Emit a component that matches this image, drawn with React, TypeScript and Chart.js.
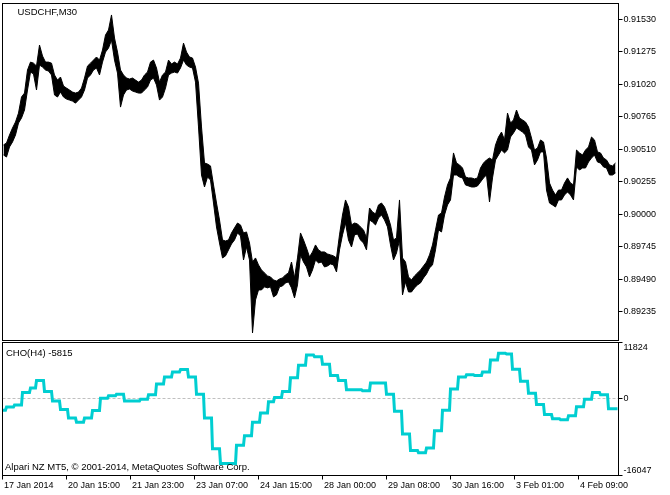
import { useEffect, useRef } from "react";
import { Chart, registerables } from "chart.js";

Chart.register(...registerables);

const FONT = "'Liberation Sans', Arial, sans-serif";

const SYMBOL_TITLE = "USDCHF,M30";
const INDICATOR_TITLE = "CHO(H4) -5815";
const COPYRIGHT = "Alpari NZ MT5, \u00a9 2001-2014, MetaQuotes Software Corp.";

// time axis
const FIRST_BAR_UTC = Date.UTC(2014, 0, 17, 6, 0); // first M30 bar on the chart
const BAR_COUNT = 616;
const BARS_PER_TIME_LABEL = 64;
const TIME_LABELS = [
  "17 Jan 2014",
  "20 Jan 15:00",
  "21 Jan 23:00",
  "23 Jan 07:00",
  "24 Jan 15:00",
  "28 Jan 00:00",
  "29 Jan 08:00",
  "30 Jan 16:00",
  "3 Feb 01:00",
  "4 Feb 09:00",
];

// price panel
const PRICE_MIN = 0.89009;
const PRICE_MAX = 0.91654;
const PRICE_TICKS = [0.89235, 0.8949, 0.89745, 0.9, 0.90255, 0.9051, 0.90765, 0.9102, 0.91275, 0.9153];
const PRICE_SAMPLE_STEP = 3; // M30 bars per sample

const PRICE_HIGH = [
  0.90544, 0.90559, 0.90622, 0.90677, 0.90724, 0.90794, 0.9092, 0.90951, 0.91132, 0.91194,
  0.91186, 0.91163, 0.91328, 0.91242, 0.91194, 0.91194, 0.91186, 0.91093, 0.91053, 0.91077,
  0.91006, 0.9099, 0.90975, 0.90959, 0.90951, 0.90959, 0.9099, 0.91069, 0.91163, 0.91186,
  0.9121, 0.91234, 0.9121, 0.91289, 0.91407, 0.91446, 0.91564, 0.91383, 0.91273, 0.91132,
  0.91093, 0.91069, 0.91061, 0.91069, 0.91053, 0.91037, 0.91053, 0.91093, 0.91116, 0.91194,
  0.9121, 0.91148, 0.91037, 0.91093, 0.91116, 0.9121, 0.91179, 0.91194, 0.91179, 0.91226,
  0.91343, 0.91273, 0.91234, 0.91226, 0.91155, 0.91029, 0.90685, 0.90402, 0.90394, 0.90379,
  0.9023, 0.90088, 0.89955, 0.89798, 0.8979, 0.89798, 0.89853, 0.89893, 0.89931, 0.89916,
  0.89853, 0.89861, 0.89774, 0.89625, 0.89657, 0.89602, 0.89563, 0.89539, 0.89516, 0.89508,
  0.89484, 0.89476, 0.89492, 0.895, 0.89524, 0.89539, 0.89625, 0.895, 0.89657, 0.89853,
  0.89798, 0.89735, 0.89665, 0.89704, 0.89759, 0.8972, 0.89704, 0.89704, 0.89688, 0.89681,
  0.89673, 0.89657, 0.89838, 0.89994, 0.90112, 0.90057, 0.89916, 0.89931, 0.89924, 0.899,
  0.89877, 0.89814, 0.90049, 0.90018, 0.90002, 0.90073, 0.90088, 0.90057, 0.89994, 0.89916,
  0.89798, 0.89814, 0.90112, 0.89657, 0.89625, 0.89508, 0.89484, 0.89516, 0.89539, 0.89563,
  0.89594, 0.89625, 0.89681, 0.89759, 0.89877, 0.89994, 0.9001, 0.90135, 0.9023, 0.90285,
  0.90481, 0.90402, 0.90387, 0.90363, 0.90292, 0.90285, 0.90285, 0.90277, 0.90285, 0.90363,
  0.90402, 0.90426, 0.90441, 0.90426, 0.90544, 0.90606, 0.90645, 0.90583, 0.90794, 0.90716,
  0.9074, 0.90818, 0.90755, 0.9074, 0.90724, 0.90685, 0.90598, 0.90504, 0.9052, 0.90583,
  0.90567, 0.90441, 0.90245, 0.9019, 0.90151, 0.9019, 0.9019, 0.90245, 0.90285, 0.90245,
  0.9023, 0.90504, 0.90481, 0.90465, 0.90504, 0.90528, 0.90606, 0.90583, 0.90489, 0.90481,
  0.90441, 0.90426, 0.90387, 0.90379, 0.90402,
];

const PRICE_LOW = [
  0.90465, 0.90449, 0.90528, 0.90567, 0.90622, 0.90716, 0.90755, 0.90818, 0.90975, 0.91116,
  0.91101, 0.90975, 0.91171, 0.91155, 0.91132, 0.91124, 0.91093, 0.90936, 0.9092, 0.90959,
  0.9092, 0.90904, 0.90896, 0.90888, 0.90872, 0.90896, 0.9092, 0.90975, 0.91069, 0.91093,
  0.91132, 0.91148, 0.91093, 0.91194, 0.91273, 0.91304, 0.91367, 0.9121, 0.91108, 0.90841,
  0.90936, 0.90975, 0.90983, 0.90967, 0.90959, 0.90951, 0.90951, 0.90975, 0.90998, 0.91053,
  0.91069, 0.91014, 0.90896, 0.9092, 0.9099, 0.91093, 0.91108, 0.91116, 0.91108, 0.91148,
  0.9121, 0.91171, 0.91155, 0.91148, 0.91037, 0.90685, 0.90308, 0.90214, 0.90292, 0.90269,
  0.90088, 0.899, 0.89774, 0.89657, 0.89673, 0.8972, 0.89767, 0.89798, 0.89853, 0.8983,
  0.89641, 0.89743, 0.89641, 0.89068, 0.89327, 0.89406, 0.89406, 0.8943, 0.89422, 0.8943,
  0.89351, 0.89367, 0.8943, 0.89437, 0.89461, 0.89469, 0.89422, 0.89343, 0.89445, 0.89681,
  0.89625, 0.89586, 0.89508, 0.89563, 0.89641, 0.89618, 0.89625, 0.89586, 0.89594, 0.8961,
  0.89602, 0.89547, 0.8972, 0.89838, 0.89931, 0.89798, 0.89743, 0.89838, 0.89845, 0.89798,
  0.89774, 0.8972, 0.89955, 0.89939, 0.89916, 0.89971, 0.89994, 0.89955, 0.899, 0.89759,
  0.89641, 0.89696, 0.89798, 0.89367, 0.89469, 0.8939, 0.8939, 0.89422, 0.89445, 0.89461,
  0.895, 0.89531, 0.89579, 0.89602, 0.8972, 0.89877, 0.89861, 0.89994, 0.90073, 0.90112,
  0.90308, 0.90308, 0.90292, 0.90285, 0.9023, 0.90222, 0.90214, 0.90214, 0.90222, 0.90253,
  0.90285, 0.90308, 0.90096, 0.90285, 0.90426, 0.90465, 0.90504, 0.90481, 0.90504, 0.90606,
  0.90638, 0.90677, 0.90661, 0.90645, 0.90622, 0.90528, 0.90504, 0.90387, 0.90426, 0.90489,
  0.90489, 0.9019, 0.90088, 0.90073, 0.90057, 0.90112, 0.90112, 0.90151, 0.90175, 0.90151,
  0.90112, 0.90371, 0.90347, 0.90363, 0.90363, 0.9041, 0.90441, 0.90465, 0.9041, 0.90402,
  0.90371, 0.90363, 0.90308, 0.90308, 0.90324,
];

// indicator panel: one value per H4 bar
const CHO_MIN = -16047;
const CHO_MAX = 11824;
const CHO_TICKS = [-16047, 0, 11824];
const CHO_H4 = [
  -2361, -1717, -1289, 1355, 2284, 3856, 1570, -431, -2218, -4004,
  -4862, -4004, -2432, 141, 641, 998, -431, -431, -74, 855,
  3142, 4571, 5643, 6143, 4571, 998, -4004, -10436, -13508, -13508,
  -9721, -7720, -4862, -2932, -574, 283, 1570, 4428, 7072, 9216,
  8859, 7287, 4928, 3856, 1927, 1927, 1713, 3356, 3356, 998,
  -2575, -7363, -10793, -11293, -10293, -6648, -2361, 2070, 4571, 5071,
  4928, 5643, 8144, 9573, 9430, 6215, 3714, 1212, -1146, -3290,
  -4147, -4361, -3504, -1646, -74, 1355, 855, -2075, -2075,
];

const M30_MS = 30 * 60 * 1000;
const H4_MS = 4 * 60 * 60 * 1000;

function buildBarTimes(): number[] {
  const times: number[] = [];
  let t = FIRST_BAR_UTC;
  while (times.length < BAR_COUNT) {
    const d = new Date(t);
    const dow = d.getUTCDay();
    const h = d.getUTCHours();
    const closed = (dow === 5 && h >= 23) || dow === 6 || dow === 0;
    if (!closed) times.push(t);
    t += M30_MS;
  }
  return times;
}

type Note = { text: string; dx: number; dy: number; fromBottom?: boolean };

function panelPlugin(id: string, notes: Note[]) {
  return {
    id,
    afterDraw(chart: any) {
      const { ctx, chartArea } = chart;
      const { left, top, right, bottom } = chartArea;
      ctx.save();
      ctx.strokeStyle = "#000";
      ctx.lineWidth = 1;
      ctx.strokeRect(left, top, right - left, bottom - top);
      ctx.fillStyle = "#000";
      ctx.font = `9.5px ${FONT}`;
      ctx.textBaseline = "middle";
      ctx.textAlign = "left";
      for (const n of notes) {
        const y = n.fromBottom ? bottom - n.dy : top + n.dy;
        ctx.fillText(n.text, left + n.dx, y);
      }
      ctx.restore();
    },
  };
}

const zeroPadding = (s: any) => {
  s.paddingTop = 0;
  s.paddingBottom = 0;
  s.paddingLeft = 0;
  s.paddingRight = 0;
};

export default function App() {
  const priceRef = useRef<HTMLCanvasElement>(null);
  const choRef = useRef<HTMLCanvasElement>(null);

  useEffect(() => {
    const times = buildBarTimes();
    const blockOfBar: number[] = [];
    let block = -1;
    let prevKey = NaN;
    for (const t of times) {
      const key = Math.floor(t / H4_MS);
      if (key !== prevKey) {
        block++;
        prevKey = key;
      }
      blockOfBar.push(Math.min(block, CHO_H4.length - 1));
    }

    const sampleBar = (i: number) => 1 + i * PRICE_SAMPLE_STEP;
    const tickFont = { family: FONT, size: 9 };

    const priceChart = new Chart(priceRef.current as HTMLCanvasElement, {
      type: "line",
      data: {
        datasets: [
          {
            data: PRICE_HIGH.map((v, i) => ({ x: sampleBar(i), y: v })),
            borderColor: "#000",
            borderWidth: 1,
            pointRadius: 0,
            fill: false,
          },
          {
            data: PRICE_LOW.map((v, i) => ({ x: sampleBar(i), y: v })),
            borderColor: "#000",
            backgroundColor: "#000",
            borderWidth: 1,
            pointRadius: 0,
            fill: "-1",
          },
        ],
      },
      options: {
        animation: false,
        responsive: false,
        events: [],
        layout: { padding: { left: 2.5, top: 3.5, right: 0, bottom: 154.5 } },
        plugins: { legend: { display: false }, tooltip: { enabled: false } },
        scales: {
          x: { type: "linear", min: 0, max: BAR_COUNT, display: false },
          y: {
            type: "linear",
            position: "right",
            min: PRICE_MIN,
            max: PRICE_MAX,
            afterBuildTicks: (s: any) => {
              s.ticks = PRICE_TICKS.map((v) => ({ value: v }));
            },
            afterFit: (s: any) => {
              s.width = 51.5;
              zeroPadding(s);
            },
            grid: { drawOnChartArea: false, drawTicks: true, tickLength: 4, tickColor: "#000" },
            border: { display: false },
            ticks: {
              color: "#000",
              font: tickFont,
              padding: 1,
              autoSkip: false,
              callback: (v: any) => Number(v).toFixed(5),
            },
          },
        },
      } as any,
      plugins: [panelPlugin("pricePanel", [{ text: SYMBOL_TITLE, dx: 15, dy: 9 }])],
    });

    const choChart = new Chart(choRef.current as HTMLCanvasElement, {
      type: "line",
      data: {
        datasets: [
          {
            data: blockOfBar.map((b, i) => ({ x: i, y: CHO_H4[b] })),
            borderColor: "#00CED1",
            borderWidth: 3,
            pointRadius: 0,
            fill: false,
            borderJoinStyle: "miter",
          },
        ],
      },
      options: {
        animation: false,
        responsive: false,
        events: [],
        layout: { padding: { left: 2.5, top: 342.5, right: 0, bottom: 0 } },
        plugins: { legend: { display: false }, tooltip: { enabled: false } },
        scales: {
          x: {
            type: "linear",
            position: "bottom",
            min: 0,
            max: BAR_COUNT,
            afterBuildTicks: (s: any) => {
              s.ticks = TIME_LABELS.map((_, i) => ({ value: i * BARS_PER_TIME_LABEL }));
            },
            afterFit: (s: any) => {
              s.height = 19.5;
              zeroPadding(s);
            },
            grid: { drawOnChartArea: false, drawTicks: true, tickLength: 4, tickColor: "#000" },
            border: { display: false },
            ticks: {
              color: "#000",
              font: tickFont,
              align: "start",
              labelOffset: 1.5,
              padding: 0.5,
              maxRotation: 0,
              minRotation: 0,
              autoSkip: false,
              callback: (_v: any, i: number) => TIME_LABELS[i] ?? "",
            },
          },
          y: {
            type: "linear",
            position: "right",
            min: CHO_MIN,
            max: CHO_MAX,
            afterBuildTicks: (s: any) => {
              s.ticks = CHO_TICKS.map((v) => ({ value: v }));
            },
            afterFit: (s: any) => {
              s.width = 51.5;
              zeroPadding(s);
            },
            grid: {
              drawOnChartArea: true,
              color: (c: any) => (c.tick && c.tick.value === 0 ? "#c0c0c0" : "rgba(0,0,0,0)"),
              lineWidth: 1,
              drawTicks: true,
              tickLength: 4,
              tickColor: "#000",
            },
            border: { display: false, dash: [3, 2] },
            ticks: {
              color: "#000",
              font: tickFont,
              padding: 1,
              autoSkip: false,
              callback: (v: any) => {
                const n = Number(v);
                if (n === CHO_MAX) return ["", String(n)];
                if (n === CHO_MIN) return [String(n), ""];
                return String(n);
              },
            },
          },
        },
      } as any,
      plugins: [
        panelPlugin("choPanel", [
          { text: INDICATOR_TITLE, dx: 3.5, dy: 10.5 },
          { text: COPYRIGHT, dx: 2.5, dy: 8.5, fromBottom: true },
        ]),
      ],
    });

    return () => {
      priceChart.destroy();
      choChart.destroy();
    };
  }, []);

  const canvasStyle: any = { position: "absolute", left: 0, top: 0, width: 670, height: 495 };
  return (
    <div style={{ position: "fixed", left: 0, top: 0, width: 670, height: 495, background: "#fff" }}>
      <canvas ref={priceRef} width={670} height={495} style={canvasStyle} />
      <canvas ref={choRef} width={670} height={495} style={canvasStyle} />
    </div>
  );
}
